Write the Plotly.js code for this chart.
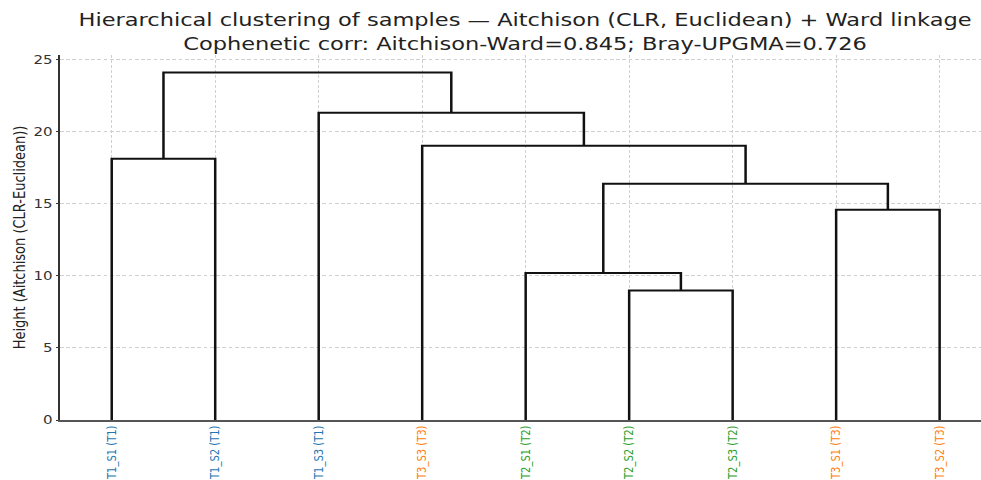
<!DOCTYPE html>
<html>
<head>
<meta charset="utf-8">
<script src="https://cdn.plot.ly/plotly-3.0.1.min.js"></script>
<style>
html,body{margin:0;padding:0;background:#fff;overflow:hidden;width:981px;height:480px;}
#chart{width:785px;height:480px;transform:scaleX(1.2497);transform-origin:0 0;}
</style>
</head>
<body>
<div id="chart"></div>
<script>
// Leaves in dendrogram display order
const leafLabels = ['T1_S1','T1_S2','T1_S3','T3_S3','T2_S1','T2_S2','T2_S3','T3_S1','T3_S2'];
const leafGroups = ['T1','T1','T1','T3','T2','T2','T2','T3','T3'];
const groupColors = {T1:'#1f77b4', T2:'#2ca02c', T3:'#ff7f0e'};

// Linkage (scipy style): node ids 0..8 are leaves, 9.. are merged clusters in order
const mergeA = [5, 4, 7, 10, 0, 3, 2, 13];
const mergeB = [6, 9, 8, 11, 1, 12, 14, 15];
const mergeHeight = [8.98, 10.19, 14.57, 16.37, 18.10, 19.01, 21.30, 24.08];

const nLeaves = leafLabels.length;
const nodeX = [], nodeH = [];
for (let i = 0; i < nLeaves; i++) { nodeX.push(5 + 10 * i); nodeH.push(0); }
const xs = [], ys = [];
for (let k = 0; k < mergeA.length; k++) {
  const a = mergeA[k], b = mergeB[k], h = mergeHeight[k];
  xs.push(nodeX[a], nodeX[a], nodeX[b], nodeX[b], null);
  ys.push(nodeH[a], h, h, nodeH[b], null);
  nodeX.push((nodeX[a] + nodeX[b]) / 2);
  nodeH.push(h);
}

const tickVals = leafLabels.map((_, i) => 5 + 10 * i);
const tickText = leafLabels.map((l, i) =>
  `<span style="color:${groupColors[leafGroups[i]]}">${l} (${leafGroups[i]})</span>`);

const font = 'DejaVu Sans, sans-serif';
const trace = {
  x: xs, y: ys, type: 'scatter', mode: 'lines',
  line: {color: '#111111', width: 2}, hoverinfo: 'skip', showlegend: false,
  connectgaps: false
};

const layout = {
  width: 785, height: 480,
  margin: {l: 48, r: 0, t: 55, b: 60},
  paper_bgcolor: '#fff', plot_bgcolor: '#fff',
  font: {family: font, color: '#222'},
  title: {
    text: 'Hierarchical clustering of samples — Aitchison (CLR, Euclidean) + Ward linkage<br>Cophenetic corr: Aitchison-Ward=0.845; Bray-UPGMA=0.726',
    font: {family: font, size: 18, color: '#222'},
    xref: 'paper', x: 0.505, xanchor: 'center',
    yref: 'container', y: 0.945, yanchor: 'top'
  },
  xaxis: {
    range: [0, 89], tickmode: 'array', tickvals: tickVals, ticktext: tickText,
    tickangle: -90, tickfont: {family: font, size: 10},
    showline: true, linecolor: '#555', linewidth: 1.5, mirror: false,
    showgrid: true, gridcolor: '#d0d0d0', griddash: '3px,2px', gridwidth: 1,
    zeroline: false, ticks: '', fixedrange: true
  },
  yaxis: {
    range: [0, 25.3], tickmode: 'linear', tick0: 0, dtick: 5,
    tickfont: {family: font, size: 12, color: '#333'},
    ticks: 'outside', ticklen: 2, tickcolor: '#333', tickwidth: 1,
    showline: true, linecolor: '#333', linewidth: 1.5,
    showgrid: true, gridcolor: '#d0d0d0', griddash: '3px,2px', gridwidth: 1,
    zeroline: false,
    title: {text: 'Height (Aitchison (CLR-Euclidean))', font: {family: font, size: 13, color: '#222'}, standoff: 3}
  }
};

Plotly.newPlot('chart', [trace], layout, {staticPlot: true, displayModeBar: false});
</script>
</body>
</html>
